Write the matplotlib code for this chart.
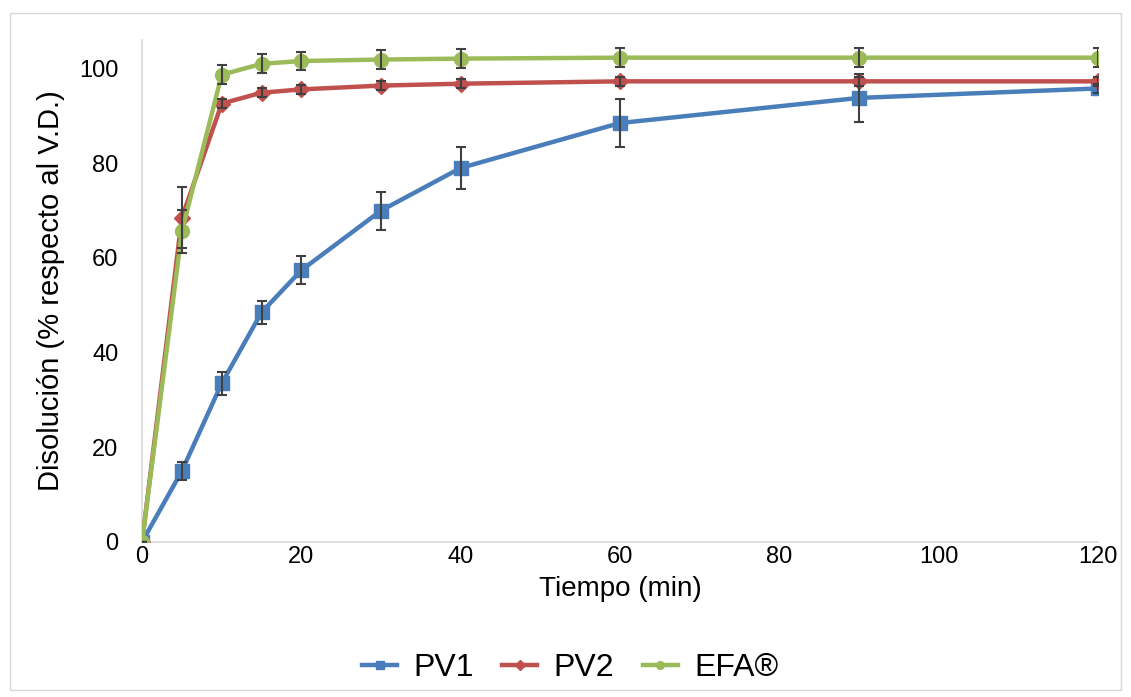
import matplotlib.pyplot as plt
from matplotlib.patches import Rectangle

plt.rcParams['font.family'] = ['Liberation Sans', 'DejaVu Sans']

tiempo = [0, 5, 10, 15, 20, 30, 40, 60, 90, 120]

pv1 = [0, 15.0, 33.5, 48.5, 57.4, 70.0, 79.0, 88.5, 93.8, 95.8]
pv1_err = [0, 2.0, 2.5, 2.5, 3.0, 4.0, 4.5, 5.0, 5.0, 1.0]

pv2 = [0, 68.5, 92.6, 94.9, 95.6, 96.4, 96.8, 97.3, 97.3, 97.3]
pv2_err = [0, 6.5, 1.0, 1.0, 1.0, 1.0, 1.0, 1.0, 1.0, 1.0]

efa = [0, 65.6, 98.7, 101.0, 101.6, 101.9, 102.1, 102.3, 102.3, 102.3]
efa_err = [0, 4.5, 2.0, 2.0, 2.0, 2.0, 2.0, 2.0, 2.0, 2.0]

series = [
    ('PV1', pv1, pv1_err, '#4A7EBB', 's'),
    ('PV2', pv2, pv2_err, '#C0504D', 'D'),
    ('EFA®', efa, efa_err, '#9BBB59', 'o'),
]

fig = plt.figure(figsize=(11.31, 6.97), dpi=100)
ax = fig.add_axes([0.1256, 0.2224, 0.8452, 0.72])

for name, vals, err, col, mk in series:
    ax.plot(tiempo, vals, color=col, lw=3.2, marker=mk,
            markersize=10 if mk != 'D' else 8.5, label=name, zorder=3)
    ax.errorbar(tiempo, vals, yerr=err, fmt='none', ecolor='#404040',
                elinewidth=1.5, capsize=3.5, capthick=1.5, zorder=4)

ax.set_xlim(0, 120)
ax.set_ylim(0, 106)
ax.set_xticks(range(0, 121, 20))
ax.set_yticks(range(0, 101, 20))
ax.tick_params(labelsize=17, length=0)
ax.tick_params(axis='y', pad=17)
ax.tick_params(axis='x', pad=3)
for s in ['top', 'right']:
    ax.spines[s].set_visible(False)
for s in ['left', 'bottom']:
    ax.spines[s].set_color('#D9D9D9')
    ax.spines[s].set_linewidth(1.2)

ax.set_xlabel('Tiempo (min)', fontsize=20, labelpad=6)
ax.set_ylabel('Disolución (% respecto al V.D.)', fontsize=21, labelpad=10)

leg = fig.legend(loc='center', bbox_to_anchor=(0.504, 0.042), ncol=3,
                 frameon=False, fontsize=23, markerscale=0.55,
                 handlelength=1.1, handletextpad=0.5, columnspacing=0.9)

fig.patches.append(Rectangle((0.009, 0.01), 0.982, 0.972, transform=fig.transFigure,
                             fill=False, edgecolor='#D9D9D9', lw=1))

fig.savefig('out.png', dpi=100)
